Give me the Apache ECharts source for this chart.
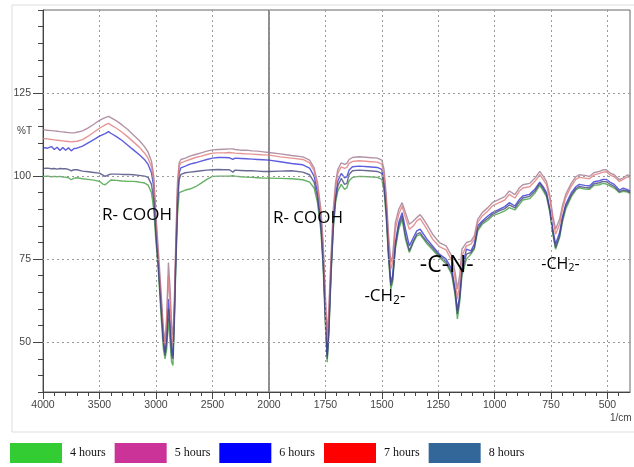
<!DOCTYPE html>
<html><head><meta charset="utf-8">
<script src="https://cdn.jsdelivr.net/npm/echarts@6/dist/echarts.min.js"></script>
<style>html,body{margin:0;padding:0;background:#fff}#c{width:634px;height:467px}</style>
</head><body><div id="c"></div>
<script>
// wavenumbers (1/cm), descending
const wavenumbers = [
 4000,3960,3925,3900,3875,3850,3825,3800,3775,3750,3725,3700,3650,3600,3550,3500,3470,3450,3420,3400,3350,3300,3250,3200,3150,3100,3070,3040,3020,
 3000,2980,2955,2935,2920,2905,2890,2875,2862,2850,2838,2825,2810,2795,2780,
 2740,2700,2650,2600,2550,2500,2450,2400,2350,2320,2300,2250,2200,2150,2100,2050,2000,1950,1900,
 1850,1820,1800,1785,1770,1760,1750,1742,1735,1725,1715,1705,1695,1680,1665,1655,1645,1630,1600,1560,1520,1500,
 1490,1480,1470,1460,1452,1440,1425,1410,1395,1378,1360,1345,1330,1315,1300,1275,1245,1215,1190,1175,1165,1155,1145,1125,1105,1090,1075,1055,1030,1010,
 980,955,935,910,890,875,845,820,800,785,770,755,742,730,722,712,700,685,660,640,625,600,580,560,535,520,505,485,470,447,430,411,400
];
// %T values per series
const h4 = [
 99.9,100.0,99.8,99.9,99.8,99.9,99.7,99.7,99.5,98.9,99.4,99.5,99.2,99.0,98.8,98.4,97.6,97.4,98.2,98.8,98.7,98.5,98.4,98.4,98.2,97.9,97.3,95.0,90.0,
 80,72,58,48,45,48,57,50,44,43,55,72,88,95,95.5,
 95.8,96.1,96.8,97.9,99.0,99.9,100.0,100.0,100.0,100.1,100.0,99.8,99.7,99.6,99.5,99.4,99.4,99.3,99.2,
 98.9,98.2,96.4,92,83.5,72.5,55,44,52,70,84,92,95.5,97.5,96,96.5,98.6,99.6,99.9,99.8,99.6,99.0,
 95.5,87,75,66,68,78,84,87,81,77,80,82,82.4,81,79.6,77.8,75.5,73.6,70.4,64,57,62,70,75,76.5,78,83.5,85.5,86.7,88,
 88.8,89.5,90.5,89.8,91.5,92.8,93.2,95,97.2,95.6,93.8,89,82.5,78,77.5,81.5,86,90,93.8,95.8,96.5,96.1,96,97.2,97.4,97.8,97.6,96.9,96.4,95,95.4,95.2,94.8
];
const h5 = [
 114.0,113.8,113.7,113.6,113.5,113.4,113.3,113.2,113.1,113.0,113.0,113.2,113.6,114.5,115.6,116.8,117.3,117.6,118.0,117.6,116.6,115.4,114.0,112.4,110.8,108.8,107.2,104.5,100.0,
 88,78,65,54,50,58,74,66,55,52,62,80,98,104,105,
 105.4,106.0,106.5,107.0,107.5,107.9,108.0,108.1,108.2,108.2,108.0,107.8,107.8,107.6,107.5,107.3,107.1,106.7,106.2,
 105.8,104.8,102.5,98,90,80,64,52,60,76,90,98,102,104,103.5,103.8,105,105.6,105.8,105.6,105.4,104.8,
 102,94,82,74,76,86,90,92,89,85.5,86.5,87.5,88.4,87,85.4,82.5,80,79,76,71,66,70,78,80,80.4,82,87,89,90.5,92,
 93,93.8,95.5,94.4,96.5,97.4,97.8,99.5,101.4,100,98.4,94,88,84,83.5,87,90.9,94.5,97.9,99.8,100.4,100.2,99.9,101,101.4,101.9,101.9,100.8,100.4,98.9,99.5,100.4,100
];
const h6 = [
 108.6,108.4,108.9,108.0,108.7,107.7,108.6,107.8,108.5,107.6,108.3,108.4,109.0,110.0,111.0,112.0,112.5,112.8,113.4,112.9,111.9,110.7,109.3,107.9,106.5,104.9,103.5,101.0,96.8,
 84,74,62,51,47,52,63,56,48,46,58,75,93,101,102.5,
 103.0,103.6,104.0,104.5,105.0,105.4,105.6,105.6,105.5,105.0,105.4,105.3,105.2,105.1,105.0,104.9,104.8,104.3,103.8,
 103.4,102.4,100.0,95,86,75,58,46,54,72,86,94,98.5,100.8,99.5,99.8,101.8,102.8,103.0,102.8,102.6,102.0,
 98.5,90,77,68,70,80,86,89,84,79,81.5,83.5,84,82.5,81,79,76.5,75,72,66,59.5,64,72,78,77.5,79.5,85,86.5,88,89,
 90,90.8,92,91,93,94,94.5,96.2,98.2,96.8,95,90,84,79.5,79,83,87.5,91.5,95,96.8,97.5,97.2,97,98.3,98.6,99,99,98,97.5,95.8,96.4,95.9,95.4
];
const h7 = [
 111.3,111.2,111.0,110.9,110.8,110.7,110.6,110.5,110.4,110.3,110.4,110.5,111.0,112.0,113.2,114.4,115.0,115.4,115.9,115.4,114.4,113.2,111.8,110.3,108.8,106.9,105.4,102.8,98.5,
 86,76,63,53,49,56,70,62,52,49,60,78,96,103,104,
 104.5,105.0,105.6,106.0,106.5,106.9,107.0,107.0,107.1,107.0,106.9,106.8,106.7,106.6,106.5,106.4,106.3,105.8,105.4,
 105.0,104.0,101.6,97,88.5,78,62,50,58,74,88,96.5,100.8,102.8,102.3,102.6,103.8,104.4,104.6,104.4,104.2,103.6,
 100.5,92,80,72,74,84,88.5,91,87.5,84,85,86.5,87.2,85.6,84,81,78.8,77.8,74.5,69,63,67.5,76,79,79.5,81,86,88,89.5,91,
 92,92.8,94.5,93.4,95.5,96.4,96.8,98.5,100.4,99,97.4,93,87,82.5,82,85.5,89.8,93.5,97,99,99.6,99.4,99.2,100.3,100.8,101.2,101.3,100.2,99.8,98.4,99,99.8,99.6
];
const h8 = [
 102.3,102.4,102.2,102.3,102.1,102.3,102.2,102.2,102.0,101.6,101.9,101.9,101.5,101.3,101.1,100.9,100.3,99.9,100.4,100.6,100.6,100.5,100.5,100.4,100.2,100.0,99.6,97.5,93.0,
 82,73,60,50,46,50,60,54,46,45,57,74,91,99,100.5,
 101.0,101.2,101.4,101.6,101.8,101.9,102.0,101.9,101.9,101.2,101.8,101.7,101.6,101.6,101.5,101.4,101.4,101.5,101.6,
 101.2,100.4,98.2,93.5,85,74,57,45,53,71,85,93,97,99.3,97.5,97.8,100.5,101.6,101.8,101.6,101.4,100.8,
 97,88.5,76,67,69,79,85,88,82,77.5,80.5,82.5,83,81.5,80.2,78.4,76,74.2,71,65,58.5,63,71,76.5,77,78.5,84.2,86,87.3,88.5,
 89.5,90.2,91.3,90.4,92.3,93.4,93.9,95.6,97.8,96.2,94.4,89.5,83,78.5,78,82,86.8,90.8,94.3,96.2,96.9,96.6,96.4,97.7,98,98.4,98.3,97.4,96.9,95.3,95.8,95.5,95
];
const seriesNames = ['4 hours','5 hours','6 hours','7 hours','8 hours'];
const seriesValues = [h4, h5, h6, h7, h8];
const legendColors = ['#33cc33','#cc3399','#0000ff','#ff0000','#336699'];
const lineColors = ['#3f9f3f','#a07890','#3535d5','#e07a7a','#45457a'];
const yTickLabels = [50, 75, 100, 125];
const yGridLines = [50, 75, 100, 125];
const x1TickLabels = [4000, 3500, 3000, 2500, 2000];
const x2TickLabels = [1750, 1500, 1250, 1000, 750, 500];
const x2MinorTicks = [];
for (let v = 450; v < 2000; v += 50) x2MinorTicks.push(v);
// annotations: text, wavenumber, %T
const annoText = ['R- COOH', 'R- COOH', '-CH{sub|2}-', '-C-N-', '-CH{sub2|2}-'];
const annoWn   = [3164, 1825, 1484, 1210, 706];
const annoT    = [88.2, 87.1, 63.8, 72.8, 73.4];
const annoSize = [17, 17, 17, 23, 16];

const chart = echarts.init(document.getElementById('c'), null, {renderer:'canvas'});

function split(arr, g) {
  const out = [];
  for (let i = 0; i < wavenumbers.length; i++) {
    const w = wavenumbers[i];
    if (g === 0 ? w >= 2000 : w <= 2000) out.push([w, arr[i]]);
  }
  return out;
}
function gridMarks(g) {
  const d = yGridLines.map(v => ({yAxis: v}));
  if (g === 1) x2TickLabels.forEach(v => d.push({xAxis: v}));
  return {
    silent: true, symbol: 'none', label: {show: false}, animation: false,
    lineStyle: {type: [2, 3], color: '#9a9a9a', width: 1},
    data: d
  };
}
const series = [];
[0, 1].forEach(g => {
  seriesNames.forEach((n, k) => {
    series.push({
      type: 'line', name: n, xAxisIndex: g, yAxisIndex: g === 0 ? 0 : 2,
      data: split(seriesValues[k], g), showSymbol: false, symbol: 'none',
      lineStyle: {color: lineColors[k], width: 1.4, opacity: 0.8},
      itemStyle: {color: lineColors[k]},
      z: 3, animation: false,
      markLine: k === 0 ? gridMarks(g) : undefined
    });
  });
});
// annotation labels
const annoLabelBase = {
  show: true, position: [0, 0], align: 'center', verticalAlign: 'middle',
  color: '#000', opacity: 1, fontFamily: 'Open Sans', fontWeight: 'normal',
  textBorderWidth: 0,
  rich: {
    sub: {fontSize: 12, fontFamily: 'Open Sans', color: '#000', padding: [9, 0, 0, 0]},
    sub2: {fontSize: 11, fontFamily: 'Open Sans', color: '#000', padding: [7, 0, 0, 0]}
  }
};
[0, 1].forEach(g => {
  const pts = [];
  annoText.forEach((t, i) => {
    if ((g === 0) === (annoWn[i] >= 2000)) pts.push({value: [annoWn[i], annoT[i]], t: t, fs: annoSize[i]});
  });
  series.push({
    type: 'scatter', name: '_anno' + g, xAxisIndex: g, yAxisIndex: g === 0 ? 0 : 2,
    symbolSize: 1, itemStyle: {color: 'rgba(255,255,255,0)'}, silent: true, z: 10, animation: false,
    data: pts.map(p => ({value: p.value, t: p.t,
      label: Object.assign({}, annoLabelBase, {fontSize: p.fs, formatter: p.t})})),
    label: annoLabelBase
  });
});

const axisFont = '"Liberation Sans Narrow", "Liberation Sans", sans-serif';
const option = {
  backgroundColor: '#fff',
  animation: false,
  grid: [
    {left: 43, top: 10, width: 226, height: 382, show: true, borderColor: '#666', borderWidth: 1, backgroundColor: 'transparent'},
    {left: 269, top: 10, width: 361, height: 382, show: true, borderColor: '#666', borderWidth: 1, backgroundColor: 'transparent'}
  ],
  xAxis: [
    {type: 'value', gridIndex: 0, min: 2000, max: 4000, interval: 500, inverse: true,
     axisLine: {lineStyle: {color: '#444'}}, axisTick: {length: 7, lineStyle: {color: '#444'}},
     minorTick: {show: true, splitNumber: 5, length: 4, lineStyle: {color: '#444'}},
     axisLabel: {color: '#444', fontSize: 10.5, fontFamily: axisFont, margin: 8,
       formatter: v => x1TickLabels.includes(v) ? String(v) : ''},
     splitLine: {show: true, lineStyle: {type: [2, 3], color: '#9a9a9a'}}},
    {type: 'value', gridIndex: 1, min: 400, max: 2000, inverse: true,
     axisLine: {lineStyle: {color: '#444'}},
     axisTick: {length: 4, customValues: x2MinorTicks, lineStyle: {color: '#444'}},
     axisLabel: {color: '#444', fontSize: 10.5, fontFamily: axisFont, margin: 8, customValues: x2TickLabels,
       formatter: v => String(v)},
     splitLine: {show: false}},
    {type: 'value', gridIndex: 1, min: 400, max: 2000, inverse: true, position: 'bottom',
     axisLine: {show: false},
     axisTick: {length: 7, customValues: x2TickLabels, lineStyle: {color: '#444'}},
     axisLabel: {show: false}, splitLine: {show: false}}
  ],
  yAxis: [
    {type: 'value', gridIndex: 0, min: 35, max: 150, interval: 5,
     axisLine: {show: true, lineStyle: {color: '#444'}}, axisTick: {show: true, length: 5, lineStyle: {color: '#444'}},
     axisLabel: {color: '#444', fontSize: 10.5, fontFamily: axisFont, margin: 12,
       formatter: v => yTickLabels.includes(v) ? String(v) : ''},
     splitLine: {show: false}},
    {type: 'value', gridIndex: 0, min: 35, max: 150, interval: 5, position: 'left',
     axisLine: {show: false}, axisTick: {show: true, length: 10, customValues: yTickLabels, lineStyle: {color: '#444'}},
     axisLabel: {show: false}, splitLine: {show: false}},
    {type: 'value', gridIndex: 1, min: 35, max: 150, interval: 5, show: false, splitLine: {show: false}}
  ],
  legend: {
    left: 10, top: 443, padding: 0, itemWidth: 52, itemHeight: 20, itemGap: 9, icon: 'rect',
    textStyle: {fontFamily: '"Liberation Serif", serif', fontSize: 12, color: '#111', padding: [0, 0, 0, 3]},
    data: seriesNames.map((n, k) => ({name: n, itemStyle: {color: legendColors[k]}})),
    selectedMode: false
  },
  graphic: [
    {type: 'rect', shape: {x: 12, y: 5, width: 640, height: 427}, style: {fill: 'none', stroke: '#ddd', lineWidth: 1}, silent: true, z: -1},
    {type: 'text', left: 17, top: 126, style: {text: '%T', fontSize: 10, fontFamily: axisFont, fill: '#444'}},
    {type: 'text', left: 610, top: 413, style: {text: '1/cm', fontSize: 10, fontFamily: axisFont, fill: '#444'}}
  ],
  series: series
};
chart.setOption(option);
</script></body></html>
